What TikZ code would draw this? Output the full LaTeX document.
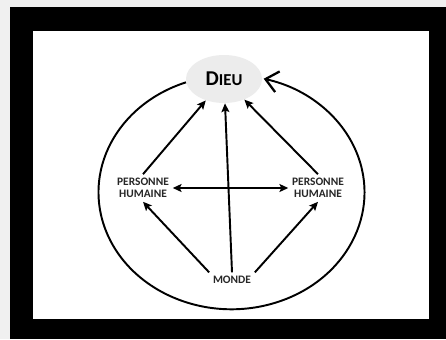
\documentclass[tikz,border=0pt]{standalone}
\usepackage{fontspec}
\setmainfont{Carlito}
\usepackage{tikz}
\usetikzlibrary{arrows.meta, shapes.geometric}

\begin{document}
\begin{tikzpicture}[x=0.02cm, y=0.02cm,
        >={Stealth[length=5pt, width=4.5pt, inset=1pt]},
        lien/.style={line width=1.1pt, ->},
        mot/.style={font=\fontsize{6.5}{7}\selectfont\bfseries, align=center, inner sep=2pt, text=black!85}]
        %\draw (0,0) grid[step=50] (446,339);
        \useasboundingbox (0,0) rectangle (446,339);
        \fill[gray!12] (0,0) rectangle (446,339);
        \fill[black] (10,0) rectangle (446,332);
        \fill[white] (33,20) rectangle (429,308);

        \node[ellipse, fill=gray!15, minimum width=1.52cm, minimum height=0.96cm, inner sep=0pt] (dieu) at (224,260)
            {\bfseries{\fontsize{12}{12}\selectfont D}{\fontsize{9.5}{10}\selectfont IEU}};
        \node[mot] (phg) at (143,151) {PERSONNE\\HUMAINE};
        \node[mot] (phd) at (318,151) {PERSONNE\\HUMAINE};
        \node[mot] (monde) at (232,59) {MONDE};

        % la grande boucle qui revient vers Dieu
        \draw[line width=1.1pt, -{Straight Barb[length=7pt, width=12pt, line width=1.3pt]}]
            (dieu.185) arc[start angle=110, end angle=436, x radius=133, y radius=117];

        \draw[lien] (phg.north) -- (dieu);
        \draw[lien] (phd.north) -- (dieu);
        \draw[lien] (monde.north) -- (dieu);
        \draw[lien] (monde.north west) -- (phg.south);
        \draw[lien] (monde.north east) -- (phd.south);
        \draw[lien, <->] (phg.east) -- (phd.west);
\end{tikzpicture}
\end{document}
